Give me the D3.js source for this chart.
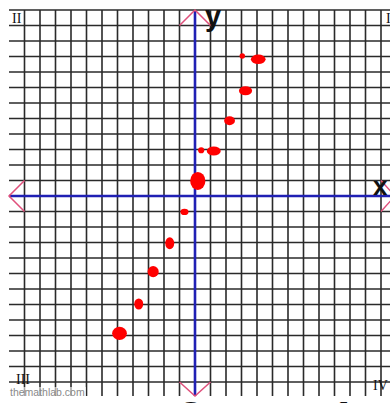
<!DOCTYPE html>
<html>
<head>
<meta charset="utf-8">
<script src="https://cdn.jsdelivr.net/npm/d3@7"></script>
<style>
  body { margin: 0; background: #fff; }
  svg { display: block; }
</style>
</head>
<body>
<script>
// hand drawn points on the grid (grid units), roughly y = 2x + 1
var dotX = [3.05, 4.08, 3.26, 2.23, 0.40, 1.21, 0.18, -0.68, -1.63, -2.70, -3.63, -4.87];
var dotY = [9.03, 8.82, 6.79, 4.86, 2.95, 2.90, 0.97, -1.03, -3.05, -4.88, -6.97, -8.86];
// blob width / height, also in grid units
var dotW = [0.35, 0.95, 0.85, 0.70, 0.40, 0.90, 0.98, 0.52, 0.58, 0.72, 0.58, 0.95];
var dotH = [0.35, 0.62, 0.58, 0.58, 0.40, 0.58, 1.16, 0.40, 0.78, 0.72, 0.72, 0.85];

var gridTicks = d3.range(-12, 13);
var quadrants = ["I", "II", "III", "IV"];
var axisNames = ["x", "y"];
var credit = "themathlab.com";

var width = 390, height = 403;

var svg = d3.select("body")
  .append("svg")
    .attr("width", width)
    .attr("height", height);

var x = d3.scaleLinear().domain([-12, 12]).range([9, 381]);
var y = d3.scaleLinear().domain([-12, 12]).range([382, 10]);
var unit = x(1) - x(0);

// grid
var grid = svg.append("g").attr("stroke", "#2a2a2a").attr("stroke-width", 1.6);

grid.selectAll("line.h")
  .data(gridTicks)
  .enter()
  .append("line")
    .attr("class", "h")
    .attr("x1", x(-12))
    .attr("x2", width)
    .attr("y1", function(d) { return y(d); })
    .attr("y2", function(d) { return y(d); });

grid.selectAll("line.v")
  .data(gridTicks.filter(function(d) { return d > -12; }))
  .enter()
  .append("line")
    .attr("class", "v")
    .attr("x1", function(d) { return x(d); })
    .attr("x2", function(d) { return x(d); })
    .attr("y1", y(12))
    .attr("y2", y(-12.9));

// axes
var axes = svg.append("g").attr("stroke", "#2020b4").attr("stroke-width", 2.6);
axes.append("line")
  .attr("x1", x(-12)).attr("x2", x(12.9))
  .attr("y1", y(0)).attr("y2", y(0));
axes.append("line")
  .attr("x1", x(0)).attr("x2", x(0))
  .attr("y1", y(12)).attr("y2", y(-12.9));

// arrow heads (tip, then the two arm ends)
var arrows = [
  [[0, 12], [-1, 11], [1, 11]],
  [[0, -12.9], [-1, -12], [1, -12]],
  [[-12, 0], [-11, 1], [-11, -1]],
  [[12.9, 0], [12, 1], [12, -1]]
];
var line = d3.line().x(function(d) { return x(d[0]); }).y(function(d) { return y(d[1]); });
svg.append("g")
  .selectAll("path")
  .data(arrows)
  .enter()
  .append("path")
    .attr("d", function(d) { return line([d[1], d[0], d[2]]); })
    .attr("fill", "none")
    .attr("stroke", "#e0507c")
    .attr("stroke-width", 1.5);

// red blobs
svg.append("g")
  .selectAll("ellipse")
  .data(dotX)
  .enter()
  .append("ellipse")
    .attr("cx", function(d) { return x(d); })
    .attr("cy", function(d, i) { return y(dotY[i]); })
    .attr("rx", function(d, i) { return dotW[i] * unit / 2; })
    .attr("ry", function(d, i) { return dotH[i] * unit / 2; })
    .attr("fill", "#ff0000");

// axis letters
svg.append("text")
  .attr("x", x(0) + 10).attr("y", y(12) + 16)
  .attr("font-family", "Liberation Sans, Arial, sans-serif")
  .attr("font-weight", "bold")
  .attr("font-size", 29)
  .attr("fill", "#111")
  .text(axisNames[1]);
svg.append("text")
  .attr("x", x(12) - 8).attr("y", y(0) - 1)
  .attr("font-family", "Liberation Sans, Arial, sans-serif")
  .attr("font-weight", "bold")
  .attr("font-size", 26)
  .attr("fill", "#111")
  .text(axisNames[0]);

// quadrant names
var quadPos = [[386, 23], [12, 23], [16, 384], [373, 390]];
svg.append("g")
  .selectAll("text")
  .data(quadrants)
  .enter()
  .append("text")
    .attr("x", function(d, i) { return quadPos[i][0]; })
    .attr("y", function(d, i) { return quadPos[i][1]; })
    .attr("font-family", "Liberation Serif, Times New Roman, serif")
    .attr("font-size", 14)
    .attr("fill", "#111")
    .text(function(d) { return d; });

svg.append("rect")
  .attr("x", 9).attr("y", 387).attr("width", 77).attr("height", 10)
  .attr("fill", "#fff").attr("opacity", 0.6);
svg.append("text")
  .attr("x", 10).attr("y", 396)
  .attr("font-family", "Liberation Sans, Arial, sans-serif")
  .attr("font-size", 10.5)
  .attr("fill", "#8a8a8a")
  .text(credit);

// tops of the caption below, cut off by the frame
svg.append("text")
  .attr("x", 178).attr("y", 434)
  .attr("font-family", "Liberation Sans, Arial, sans-serif")
  .attr("font-weight", "bold")
  .attr("font-size", 46)
  .attr("fill", "#111")
  .text("2");
svg.append("text")
  .attr("x", 330).attr("y", 434)
  .attr("font-family", "Liberation Sans, Arial, sans-serif")
  .attr("font-weight", "bold")
  .attr("font-size", 46)
  .attr("fill", "#111")
  .text("1");
</script>
</body>
</html>
